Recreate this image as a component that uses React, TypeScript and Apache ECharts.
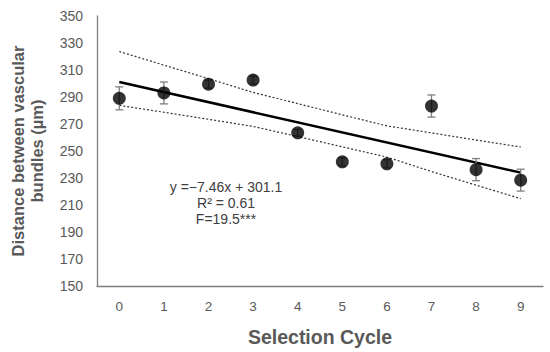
import React, { useEffect, useRef } from "react";
import * as echarts from "echarts";

const cycles = ["0", "1", "2", "3", "4", "5", "6", "7", "8", "9"];
const meanDistance = [289, 293, 299.5, 302.5, 263.5, 242, 240.5, 283.3, 236.2, 228.4];
const errDistance = [8.5, 8.1, 3, 3, 2.5, 3, 3, 8.2, 8.2, 8.1];
const trendLine: [number, number][] = [[0, 301.1], [9, 234.0]];
const upperBand = [323.7, 313.6, 303.6, 293.4, 285.1, 276.8, 268.6, 263.4, 258.1, 253.0];
const lowerBand = [283.8, 278.7, 273.5, 268.2, 260.7, 253.1, 245.5, 234.8, 224.7, 214.7];
const annotationLines = ["y =\u22127.46x + 301.1", "R\u00b2 = 0.61", "F=19.5***"];

const FONT = "'Liberation Sans', Arial, sans-serif";
const GRAY = "#595959";

export default function App() {
  const ref = useRef<HTMLDivElement>(null);
  useEffect(() => {
    if (!ref.current) return;
    const chart = echarts.init(ref.current, undefined, { renderer: "svg" });
    const errData = meanDistance.map((m, i) => [i, m - errDistance[i], m + errDistance[i]]);
    chart.setOption({
      animation: false,
      textStyle: { fontFamily: FONT },
      grid: { left: 87, right: 7, top: 16, bottom: 60, containLabel: false },
      xAxis: {
        type: "category",
        data: cycles,
        boundaryGap: true,
        axisLine: { show: true, lineStyle: { color: "#7f7f7f", width: 1.3 } },
        axisTick: { show: false },
        axisLabel: { color: GRAY, fontSize: 13.5, margin: 13, fontFamily: FONT },
        splitLine: { show: false },
        name: "Selection Cycle",
        nameLocation: "middle",
        nameGap: 41,
        nameTextStyle: { color: GRAY, fontSize: 19.5, fontWeight: "bold", fontFamily: FONT },
      },
      yAxis: {
        type: "value",
        min: 150,
        max: 350,
        interval: 20,
        axisLine: { show: true, lineStyle: { color: "#7f7f7f", width: 1.3 } },
        axisTick: { show: false },
        splitLine: { show: false },
        axisLabel: { color: GRAY, fontSize: 14, margin: 14, fontFamily: FONT },
        name: "Distance between vascular\nbundles (\u00b5m)",
        nameLocation: "middle",
        nameGap: 51,
        nameTextStyle: { color: GRAY, fontSize: 16.5, fontWeight: "bold", fontFamily: FONT, lineHeight: 19 },
      },
      graphic: annotationLines.map((t, i) => ({
        type: "text",
        x: 226,
        y: 187 + i * 16,
        style: {
          text: t,
          textAlign: "center",
          textVerticalAlign: "middle",
          fill: "#404040",
          font: `14px ${FONT}`,
        },
      })),
      series: [
        {
          type: "line",
          data: upperBand,
          symbol: "none",
          lineStyle: { color: "#333", width: 1.2, type: [2, 2] },
          z: 2,
        },
        {
          type: "line",
          data: lowerBand,
          symbol: "none",
          lineStyle: { color: "#333", width: 1.2, type: [2, 2] },
          z: 2,
        },
        {
          type: "line",
          data: trendLine,
          symbol: "none",
          lineStyle: { color: "#000", width: 2.5 },
          z: 3,
        },
        {
          type: "custom",
          data: errData,
          z: 4,
          renderItem: (params: any, api: any) => {
            const x = api.value(0);
            const lo = api.coord([x, api.value(1)]);
            const hi = api.coord([x, api.value(2)]);
            const cap = 4;
            const style = { stroke: "#7f7f7f", lineWidth: 1.3 };
            return {
              type: "group",
              children: [
                { type: "line", shape: { x1: lo[0], y1: lo[1], x2: hi[0], y2: hi[1] }, style },
                { type: "line", shape: { x1: lo[0] - cap, y1: lo[1], x2: lo[0] + cap, y2: lo[1] }, style },
                { type: "line", shape: { x1: hi[0] - cap, y1: hi[1], x2: hi[0] + cap, y2: hi[1] }, style },
              ],
            };
          },
        },
        {
          type: "scatter",
          data: meanDistance,
          symbol: "circle",
          symbolSize: 13,
          itemStyle: { color: "#000" },
          z: 5,
        },
      ],
    });
    return () => chart.dispose();
  }, []);
  return <div ref={ref} style={{ width: 550, height: 352, position: "absolute", left: 0, top: 0 }} />;
}
